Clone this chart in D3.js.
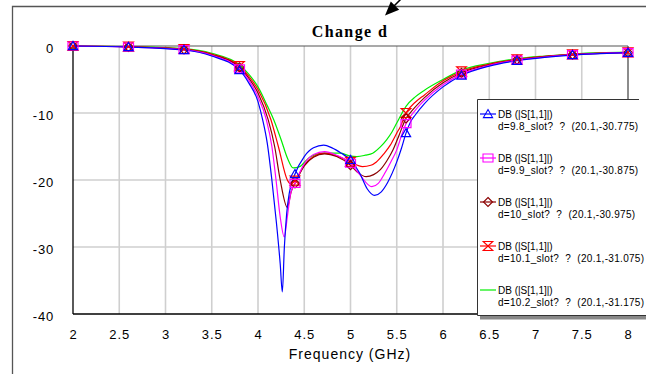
<!DOCTYPE html>
<html>
<head>
<meta charset="utf-8">
<script src="https://cdn.jsdelivr.net/npm/d3@7"></script>
<style>
  html, body { margin: 0; padding: 0; background: #fff; }
  svg { display: block; }
</style>
</head>
<body>
<svg id="chart" width="646" height="374"></svg>
<script>
// frequency (GHz), S11 (dB) for each slot length d
const s98 = [[2.0,0],[2.6,-0.15],[3.2,-0.6],[3.5,-1.5],[3.8,-3.6],[3.9,-5.5],[4.0,-8.3],[4.05,-11],[4.1,-14.5],[4.15,-20],[4.2,-26.5],[4.24,-32.5],[4.263,-36.7],[4.285,-30],[4.31,-25],[4.34,-21.8],[4.4,-19.1],[4.5,-16.5],[4.6,-15.2],[4.71,-14.8],[4.8,-15.2],[4.9,-16],[5.0,-17.0],[5.1,-19],[5.18,-21.3],[5.26,-22.3],[5.33,-21.8],[5.4,-20.4],[5.5,-17.3],[5.55,-15.3],[5.6,-13],[5.65,-11.3],[5.7,-10.3],[5.8,-8.6],[6.0,-6.1],[6.2,-4.4],[6.5,-3.0],[6.8,-2.2],[7.1,-1.7],[7.4,-1.35],[7.7,-1.15],[8.0,-1.0]];
const s99 = [[2.0,0],[2.6,-0.15],[3.2,-0.55],[3.5,-1.4],[3.8,-3.4],[3.9,-5.1],[4.0,-7.6],[4.09,-11],[4.15,-15],[4.195,-20],[4.24,-25.5],[4.284,-28.5],[4.317,-25.5],[4.353,-22],[4.4,-20.5],[4.5,-17.6],[4.6,-16.2],[4.72,-15.75],[4.85,-16.3],[5.0,-17.5],[5.1,-19.2],[5.23,-21],[5.3,-20.5],[5.37,-19],[5.44,-17.2],[5.5,-15.5],[5.56,-13.0],[5.6,-11.6],[5.7,-9.6],[5.8,-8.1],[6.0,-5.8],[6.2,-4.2],[6.5,-2.9],[6.8,-2.1],[7.1,-1.65],[7.4,-1.3],[7.7,-1.1],[8.0,-1.0]];
const s100 = [[2.0,0],[2.6,-0.12],[3.2,-0.5],[3.5,-1.3],[3.8,-3.2],[3.9,-4.8],[4.0,-7.0],[4.11,-11],[4.18,-15],[4.24,-20],[4.317,-24.1],[4.36,-21.7],[4.4,-20.5],[4.5,-17.9],[4.6,-16.6],[4.72,-16.1],[4.85,-16.5],[5.0,-17.8],[5.08,-18.9],[5.17,-19.5],[5.25,-19.2],[5.32,-18.5],[5.39,-17.2],[5.46,-15.5],[5.52,-13.5],[5.6,-10.8],[5.65,-9.9],[5.8,-7.7],[6.0,-5.5],[6.2,-4.0],[6.5,-2.8],[6.8,-2.05],[7.1,-1.6],[7.4,-1.3],[7.7,-1.1],[8.0,-1.0]];
const s101 = [[2.0,0],[2.6,-0.1],[3.2,-0.45],[3.5,-1.2],[3.8,-3.0],[3.9,-4.5],[4.0,-6.5],[4.14,-11],[4.22,-15],[4.317,-20],[4.353,-20.6],[4.4,-20.1],[4.5,-17.8],[4.6,-16.5],[4.72,-16.0],[4.85,-16.4],[5.0,-17.3],[5.13,-18.0],[5.22,-17.8],[5.28,-17.3],[5.36,-16.1],[5.43,-14.8],[5.5,-13],[5.54,-12.0],[5.6,-10.0],[5.7,-8.4],[5.8,-7.3],[6.0,-5.2],[6.2,-3.8],[6.5,-2.7],[6.8,-2.0],[7.1,-1.55],[7.4,-1.25],[7.7,-1.05],[8.0,-0.95]];
const s102 = [[2.0,0],[2.6,-0.1],[3.2,-0.4],[3.5,-1.1],[3.8,-2.8],[3.9,-4.2],[4.0,-6.1],[4.1,-8.9],[4.17,-11],[4.25,-14],[4.32,-16.8],[4.38,-18.2],[4.45,-18.0],[4.56,-16.6],[4.71,-16.0],[4.89,-16.0],[4.99,-16.4],[5.07,-16.5],[5.16,-16.3],[5.24,-16],[5.32,-15.1],[5.39,-14],[5.45,-12.8],[5.5,-11.5],[5.6,-9.0],[5.7,-7.6],[5.8,-6.6],[6.0,-5.0],[6.2,-3.6],[6.5,-2.6],[6.8,-1.9],[7.1,-1.5],[7.4,-1.2],[7.7,-1.0],[8.0,-0.9]];

const markerFreqs = [2.0, 2.6, 3.2, 3.8, 4.4, 5.0, 5.6, 6.2, 6.8, 7.4, 8.0];
const xTicks = [2, 2.5, 3, 3.5, 4, 4.5, 5, 5.5, 6, 6.5, 7, 7.5, 8];
const yTicks = [0, -10, -20, -30, -40];
const legendNames = ['d=9.8_slot?  ?  (20.1,-30.775)', 'd=9.9_slot?  ?  (20.1,-30.875)', 'd=10_slot?  ?  (20.1,-30.975)', 'd=10.1_slot?  ?  (20.1,-31.075)', 'd=10.2_slot?  ?  (20.1,-31.175)'];

const series = [
    {name: legendNames[0], values: s98, color: '#0000ff', marker: 'tri'},
    {name: legendNames[1], values: s99, color: '#ff00ff', marker: 'square'},
    {name: legendNames[2], values: s100, color: '#8b0000', marker: 'diamond'},
    {name: legendNames[3], values: s101, color: '#ff0000', marker: 'hourglass'},
    {name: legendNames[4], values: s102, color: '#00ee00', marker: null}
];

const markerPath = {
    tri: 'M0,-4.5L4.6,3.6L-4.6,3.6Z',
    square: 'M-5,-4H5V4H-5Z',
    diamond: 'M0,-4.5L4.5,0L0,4.5L-4.5,0Z',
    hourglass: 'M-4.8,-4.5H4.8L-4.8,4.5H4.8Z'
};

const svg = d3.select('#chart');
const x = d3.scaleLinear().domain([2, 8]).range([73, 628]);
const y = d3.scaleLinear().domain([0, -40]).range([46, 314]);
const font = '"Liberation Sans", Arial, sans-serif';

// outer frame
svg.append('path')
    .attr('d', 'M12.5,374V6.5H646')
    .attr('fill', 'none')
    .attr('stroke', '#555')
    .attr('stroke-width', 1.3);

// grid
svg.append('g').selectAll('line')
    .data(xTicks.slice(1, -1))
    .enter().append('line')
    .attr('x1', d => x(d)).attr('x2', d => x(d))
    .attr('y1', y(0)).attr('y2', y(-40))
    .attr('stroke', '#cfcfcf').attr('stroke-width', 1.6);
svg.append('g').selectAll('line')
    .data(yTicks.slice(1, -1))
    .enter().append('line')
    .attr('x1', x(2)).attr('x2', x(8))
    .attr('y1', d => y(d)).attr('y2', d => y(d))
    .attr('stroke', '#cfcfcf').attr('stroke-width', 1.6);

// plot borders
svg.append('line').attr('x1', x(2)).attr('x2', x(8)).attr('y1', y(0)).attr('y2', y(0))
    .attr('stroke', '#555').attr('stroke-width', 1.2);
svg.append('line').attr('x1', x(8)).attr('x2', x(8)).attr('y1', y(0)).attr('y2', y(-40))
    .attr('stroke', '#666').attr('stroke-width', 1.5);
svg.append('line').attr('x1', x(2)).attr('x2', x(2)).attr('y1', y(0)).attr('y2', y(-40))
    .attr('stroke', '#000').attr('stroke-width', 1.3);
svg.append('line').attr('x1', x(2)).attr('x2', x(8)).attr('y1', y(-40)).attr('y2', y(-40))
    .attr('stroke', '#000').attr('stroke-width', 1.3);

// axes labels
const xAxis = svg.append('g')
    .attr('transform', `translate(0,${y(-40)})`)
    .call(d3.axisBottom(x).tickValues(xTicks).tickSize(0).tickPadding(16).tickFormat(d => String(d)));
xAxis.select('.domain').remove();
xAxis.selectAll('text').attr('font-family', font).attr('font-size', 13)
    .attr('letter-spacing', 1).attr('fill', '#000');

const yAxis = svg.append('g')
    .attr('transform', `translate(${x(2)},0)`)
    .call(d3.axisLeft(y).tickValues(yTicks).tickSize(0).tickPadding(19).tickFormat(d => String(d)));
yAxis.select('.domain').remove();
yAxis.selectAll('text').attr('font-family', font).attr('font-size', 13)
    .attr('letter-spacing', 0.8).attr('dy', '0.5em').attr('fill', '#000');

svg.append('text')
    .attr('x', 350).attr('y', 359)
    .attr('text-anchor', 'middle')
    .attr('font-family', font).attr('font-size', 14).attr('letter-spacing', 1)
    .text('Frequency (GHz)');

svg.append('text')
    .attr('x', 350).attr('y', 37)
    .attr('text-anchor', 'middle')
    .attr('font-family', '"Liberation Serif", "Times New Roman", serif')
    .attr('font-weight', 'bold').attr('font-size', 16).attr('letter-spacing', 1.4)
    .text('Change d');

// arrow
svg.append('line').attr('x1', 404).attr('y1', -4).attr('x2', 393).attr('y2', 7)
    .attr('stroke', '#000').attr('stroke-width', 1.5);
svg.append('path')
    .attr('d', 'M385,15.5L390.8,1.4L399.2,9.8Z')
    .attr('fill', '#000');

// curves
const line = d3.line()
    .x(d => x(d[0]))
    .y(d => y(d[1]))
    .curve(d3.curveMonotoneX);

const drawOrder = series.slice().reverse();
svg.append('g').selectAll('path')
    .data(drawOrder)
    .enter().append('path')
    .attr('d', d => line(d.values))
    .attr('fill', 'none')
    .attr('stroke', d => d.color)
    .attr('stroke-width', 1.2);

drawOrder.filter(s => s.marker).forEach(s => {
    svg.append('g').selectAll('path')
        .data(s.values.filter(v => markerFreqs.some(f => Math.abs(f - v[0]) < 1e-6)))
        .enter().append('path')
        .attr('transform', d => `translate(${x(d[0])},${y(d[1])})`)
        .attr('d', markerPath[s.marker])
        .attr('fill', 'none')
        .attr('stroke', s.color)
        .attr('stroke-width', 1.2);
});

// legend
const lg = svg.append('g');
lg.append('rect').attr('x', 480).attr('y', 316).attr('width', 170).attr('height', 3.5).attr('fill', '#888');
lg.append('rect').attr('x', 477.5).attr('y', 99.5).attr('width', 180).attr('height', 216).attr('fill', '#fff');
lg.append('path').attr('d', 'M639,99.5H477.5V315.5H646')
    .attr('fill', 'none').attr('stroke', '#333').attr('stroke-width', 1);

const items = lg.selectAll('g.item')
    .data(series)
    .enter().append('g')
    .classed('item', true)
    .attr('transform', (d, i) => `translate(0,${114 + i * 44})`);

items.append('line')
    .attr('x1', 480).attr('x2', 496).attr('y1', 0).attr('y2', 0)
    .attr('stroke', d => d.color).attr('stroke-width', 1.2);
items.filter(d => d.marker).append('path')
    .attr('transform', 'translate(488,0)')
    .attr('d', d => markerPath[d.marker])
    .attr('fill', 'none')
    .attr('stroke', d => d.color)
    .attr('stroke-width', 1.1);
items.append('text')
    .attr('x', 498).attr('y', 3.5)
    .attr('font-family', font).attr('font-size', 10).attr('fill', '#000')
    .text('DB (|S[1,1]|)');
items.append('text')
    .attr('x', 498).attr('y', 15.5)
    .attr('font-family', font).attr('font-size', 10).attr('letter-spacing', 0.3).attr('fill', '#000')
    .style('white-space', 'pre')
    .text(d => d.name);
</script>
</body>
</html>
